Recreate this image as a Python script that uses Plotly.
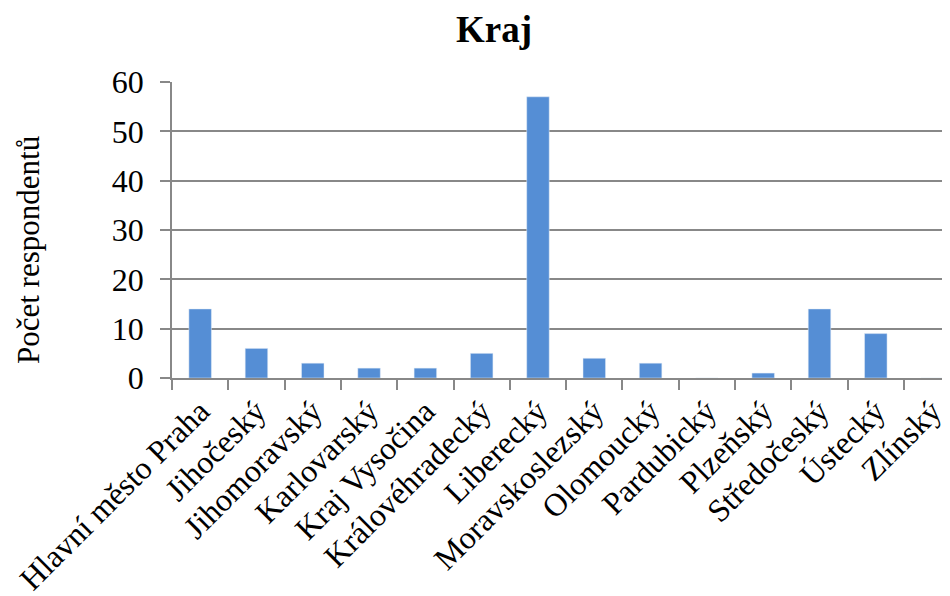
import plotly.graph_objects as go

categories = ["Hlavní město Praha", "Jihočeský", "Jihomoravský", "Karlovarský",
              "Kraj Vysočina", "Královéhradecký", "Liberecký", "Moravskoslezský",
              "Olomoucký", "Pardubický", "Plzeňský", "Středočeský", "Ústecký", "Zlínský"]
values = [14, 6, 3, 2, 2, 5, 57, 4, 3, 0, 1, 14, 9, 0]
y_ticks = [0, 10, 20, 30, 40, 50, 60]

FONT = "Liberation Serif, Times New Roman, serif"

fig = go.Figure(go.Bar(x=categories, y=values, marker_color="#558ED5", width=0.4))

fig.update_layout(
    width=950, height=596,
    margin=dict(l=164, r=0, t=74, b=226, autoexpand=False),
    paper_bgcolor="white", plot_bgcolor="white",
    font=dict(family=FONT, color="black"),
    title=dict(text="<b>Kraj</b>", x=(494 - 8) / 950, xanchor="center",
               y=1 - (29 - 8) / 596, yanchor="middle",
               font=dict(size=37, family=FONT, color="black")),
    showlegend=False,
)
fig.update_xaxes(
    range=[-0.5, 13.46], tickangle=-45, tickfont=dict(size=32, family=FONT),
    automargin=False,
    showline=True, linecolor="#888888", linewidth=1.5,
    ticks="outside", tickson="boundaries", ticklen=10, tickcolor="#888888", tickwidth=1.5,
    showgrid=False,
)
fig.update_yaxes(
    range=[0, 60], tickvals=y_ticks, tickfont=dict(size=32, family=FONT),
    automargin=False, ticklabelstandoff=10,
    showline=True, linecolor="#888888", linewidth=1.5,
    ticks="outside", ticklen=10, tickcolor="#888888", tickwidth=1.5,
    showgrid=True, gridcolor="#888888", gridwidth=1.5, zeroline=False,
)
fig.add_annotation(text="Počet respondentů", xref="paper", yref="paper",
                   x=-(172 - 28) / 786, y=(378 - 250) / 296, textangle=-90,
                   showarrow=False, xanchor="center", yanchor="middle",
                   font=dict(size=31, family=FONT, color="black"))

fig.write_html("out.html")
